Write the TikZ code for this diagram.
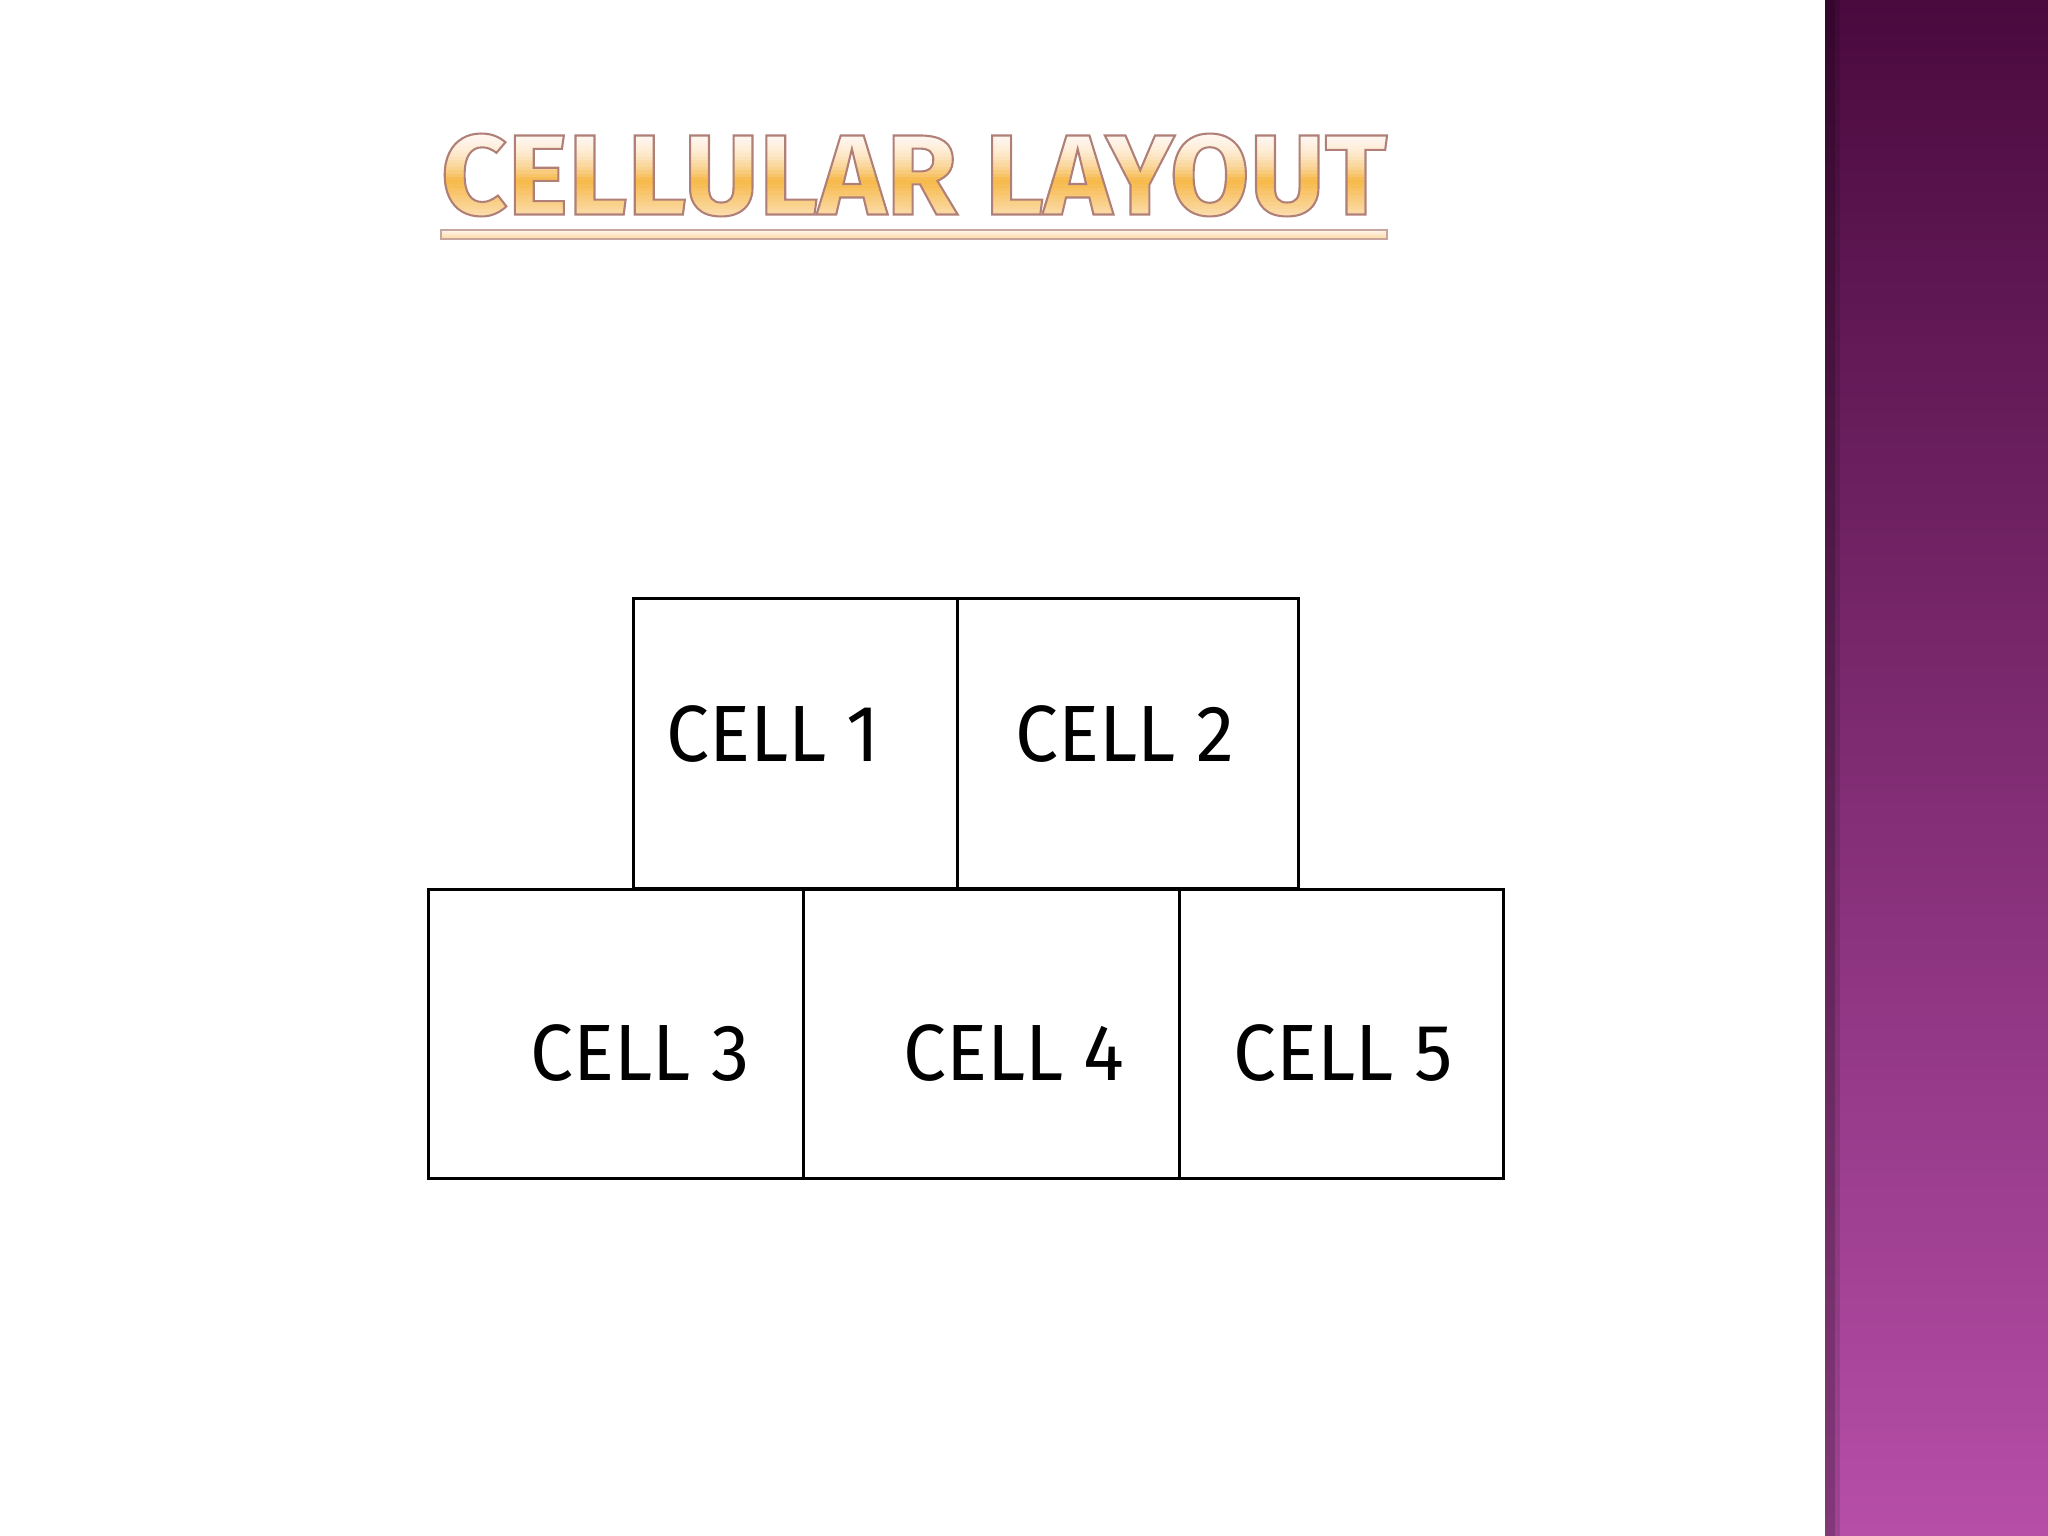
\documentclass[tikz,border=0pt]{standalone}
\usepackage{fontspec}
\setmainfont{Fira Sans}
\definecolor{barTop}{RGB}{74,10,62}
\definecolor{barMid}{RGB}{125,45,110}
\definecolor{barBot}{RGB}{182,78,168}
\definecolor{titleLine}{RGB}{176,128,120}
\definecolor{peachTop}{RGB}{255,246,240}
\definecolor{peachMid}{RGB}{246,184,72}
\definecolor{peachBot}{RGB}{252,222,175}
\newcommand{\titletext}{\resizebox{9.46cm}{0.81cm}{\fontsize{33}{38}\selectfont\bfseries CELLULAR LAYOUT}}
\newcommand{\titleoutline}{\resizebox{9.46cm}{0.81cm}{\fontsize{33}{38}\selectfont\bfseries\special{pdf:literal direct 1 Tr 0.6 w 0.69 0.5 0.47 RG}CELLULAR LAYOUT\special{pdf:literal direct 0 Tr}}}
\tikzset{
  cellbox/.style={draw=black, line width=0.8pt, inner sep=0pt, anchor=north west},
  celltext/.style={font=\fontsize{22.7}{26}\selectfont, text=black, inner sep=0pt, anchor=center},
  titlestyle/.style={inner sep=0pt, anchor=center},
}
\begin{document}
\begin{tikzpicture}
\useasboundingbox (0,0) rectangle (20.48,-15.36);
\fill[white] (0,0) rectangle (20.48,-15.36);
% purple side bar
\shade[top color=barTop, middle color=barMid, bottom color=barBot] (18.25,0) rectangle (20.48,-15.36);
\fill[black, opacity=0.28] (18.25,0) rectangle (18.35,-15.36);
\fill[black, opacity=0.12] (18.35,0) rectangle (18.40,-15.36);
% title: gradient fill made of clipped bands
\foreach \i in {0,...,14} {
  \pgfmathtruncatemacro{\p}{100*(((\i+0.5)/15)^2)}
  \begin{scope}
    \clip (4.0,{-1.30-\i*0.034}) rectangle (14.3,{-1.30-(\i+1)*0.034-0.002});
    \node[titlestyle, text=peachMid!\p!peachTop] (tfa\i) at (9.14,-1.75) {\titletext};
  \end{scope}
}
\foreach \i in {0,...,9} {
  \pgfmathtruncatemacro{\q}{100-100*((\i+0.5)/10)}
  \begin{scope}
    \clip (4.0,{-1.81-\i*0.036}) rectangle (14.3,{-1.81-(\i+1)*0.036-0.002});
    \node[titlestyle, text=peachMid!\q!peachBot] (tfb\i) at (9.14,-1.75) {\titletext};
  \end{scope}
}
\begin{scope}
  \clip (4.0,-2.16) rectangle (14.3,-2.40);
  \node[titlestyle, text=peachBot] (tfc) at (9.14,-1.75) {\titletext};
\end{scope}
\node[titlestyle, text=titleLine] (title) at (9.14,-1.75) {\titleoutline};
\node[draw=titleLine!70!white, line width=0.5pt, top color=peachTop, bottom color=peachBot!85!peachMid,
  minimum width=9.46cm, minimum height=0.09cm, inner sep=0pt, anchor=north west] (uline) at (4.40,-2.29) {};
% cells
\node[cellbox, minimum width=3.24cm, minimum height=2.90cm] (c1) at (6.32,-5.97) {};
\node[cellbox, minimum width=3.41cm, minimum height=2.90cm] (c2) at (9.56,-5.97) {};
\node[cellbox, minimum width=3.75cm, minimum height=2.89cm] (c3) at (4.27,-8.88) {};
\node[cellbox, minimum width=3.76cm, minimum height=2.89cm] (c4) at (8.02,-8.88) {};
\node[cellbox, minimum width=3.24cm, minimum height=2.89cm] (c5) at (11.78,-8.88) {};
\node[celltext] (t1) at (7.73,-7.34) {\scalebox{0.96}[1]{CELL 1}};
\node[celltext] (t2) at (11.25,-7.34) {\scalebox{0.96}[1]{CELL 2}};
\node[celltext] (t3) at (6.40,-10.53) {\scalebox{0.96}[1]{CELL 3}};
\node[celltext] (t4) at (10.14,-10.53) {\scalebox{0.96}[1]{CELL 4}};
\node[celltext] (t5) at (13.43,-10.53) {\scalebox{0.96}[1]{CELL 5}};
\end{tikzpicture}
\end{document}
